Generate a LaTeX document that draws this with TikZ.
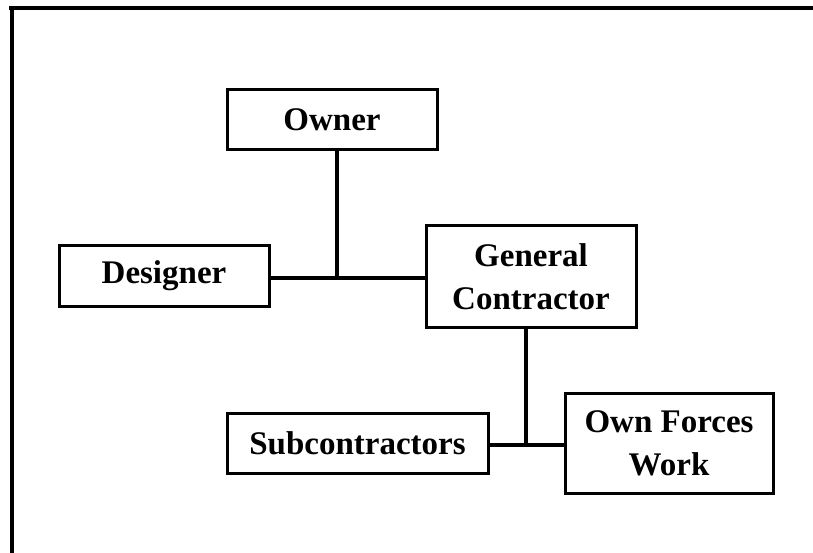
\documentclass[tikz,border=0pt]{standalone}
\usepackage{fontspec}
\setmainfont{Liberation Serif}
\begin{document}
\begin{tikzpicture}[x=1pt,y=-1pt,
  party/.style={draw, line width=3pt, inner sep=0pt, align=center,
    font=\fontsize{33}{43}\selectfont\bfseries},
  link/.style={line width=4pt},
  frameline/.style={line width=4pt}]
  \useasboundingbox (0,0) rectangle (813,553);

  % frame (top and left edges)
  \coordinate (ftr) at (813,7.7);
  \coordinate (ftl) at (9,7.7);
  \coordinate (fl) at (12,6);
  \coordinate (fb) at (12,553);
  \draw[frameline] (ftl) -- (ftr);
  \draw[frameline] (fl) -- (fb);

  % parties
  \node[party, minimum width=210, minimum height=60] (owner) at (332,120) {Owner};
  \node[party, minimum width=210, minimum height=60] (designer) at (164,276) {Designer};
  \node[party, minimum width=210, minimum height=101] (gc) at (531,276.5) {General\\Contractor};
  \node[party, minimum width=261, minimum height=60] (sub) at (357.5,443.5) {Subcontractors};
  \node[party, minimum width=208, minimum height=100] (own) at (669,443) {Own Forces\\Work};

  % junctions
  \coordinate (j1) at (337,278);
  \coordinate (j2) at (526,445);

  % connectors
  \draw[link] (designer.east |- j1) -- (gc.west |- j1);
  \draw[link] (owner.south -| j1) -- (j1);
  \draw[link] (sub.east |- j2) -- (own.west |- j2);
  \draw[link] (gc.south -| j2) -- (j2);
\end{tikzpicture}
\end{document}
